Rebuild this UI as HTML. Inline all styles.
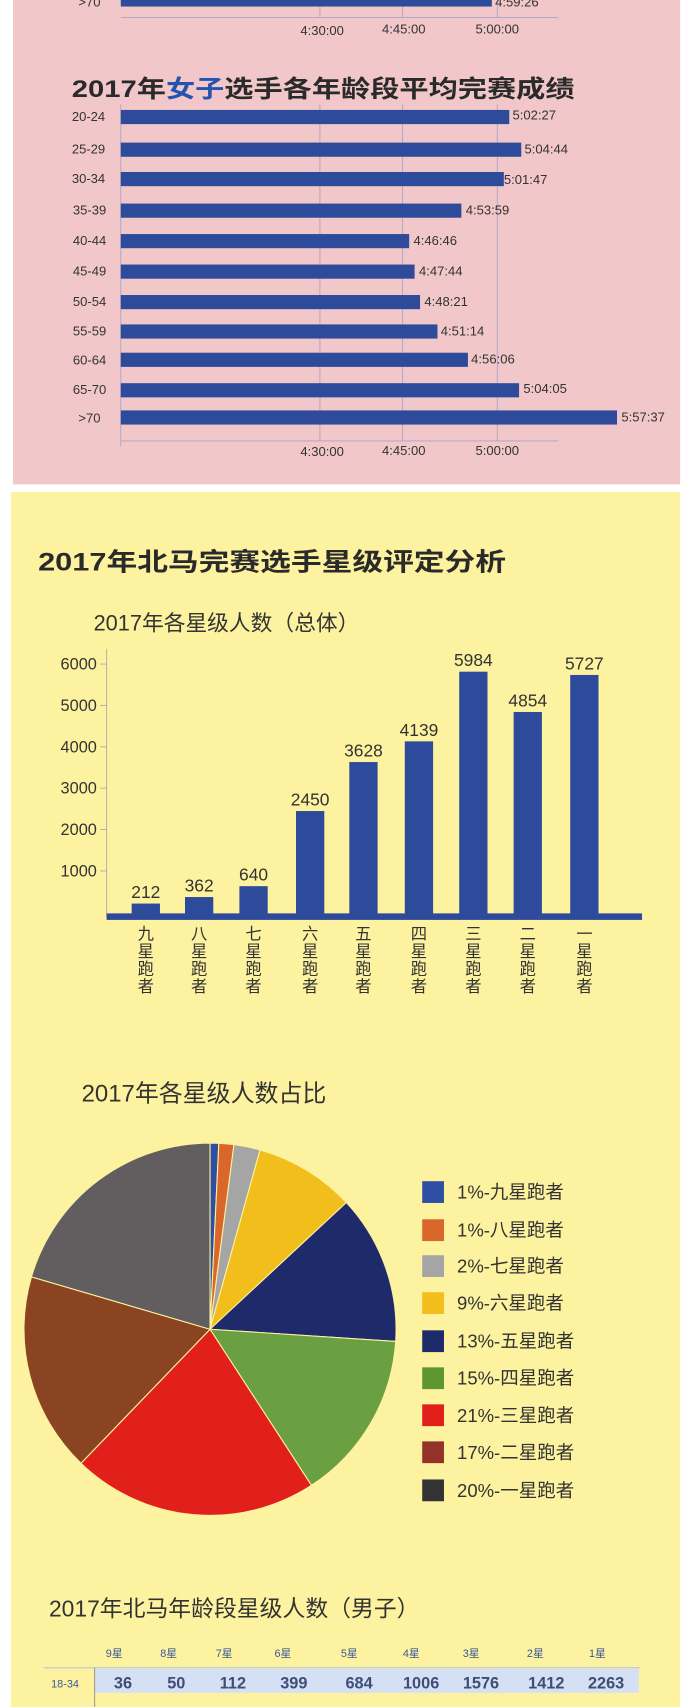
<!DOCTYPE html>
<html><head><meta charset="utf-8"><style>
html,body{margin:0;padding:0;background:#fff;width:691px;height:1707px;overflow:hidden}
svg{display:block}
text{font-family:"Liberation Sans","Noto Sans CJK SC",sans-serif}
</style></head><body>
<svg width="691" height="1707" viewBox="0 0 635 1568" preserveAspectRatio="none" xmlns="http://www.w3.org/2000/svg">
<rect x="0" y="0" width="635" height="1568" fill="#fff"/>
<rect x="12" y="0" width="613" height="445" fill="#f1c7c9"/>
<rect x="10" y="452" width="615" height="1116" fill="#fdf29f"/>
<!-- top partial chart -->
<g stroke="#a9a3c4" stroke-width="0.8">
<line x1="294" y1="0" x2="294" y2="16"/><line x1="370" y1="0" x2="370" y2="16"/><line x1="457" y1="0" x2="457" y2="16"/>
<line x1="111" y1="16" x2="513" y2="16"/>
</g>
<rect x="111" y="0" width="341" height="6" fill="#2e4a9a"/>
<text x="72" y="6" font-size="12" fill="#333">&gt;70</text>
<text x="455" y="6" font-size="12" fill="#333">4:59:26</text>
<g font-size="12" fill="#333"><text x="276" y="32">4:30:00</text><text x="351" y="31">4:45:00</text><text x="437" y="31">5:00:00</text></g>
<!-- women chart -->
<text x="66" y="89" font-size="22" font-weight="bold" fill="#2a2a2a" textLength="462" lengthAdjust="spacingAndGlyphs">2017年<tspan fill="#2553b0">女子</tspan>选手各年龄段平均完赛成绩</text>
<g stroke="#a9a3c4" stroke-width="0.8">
<line x1="294" y1="96" x2="294" y2="405"/><line x1="370" y1="96" x2="370" y2="405"/><line x1="457" y1="96" x2="457" y2="405"/>
<line x1="111" y1="96" x2="111" y2="410"/>
<line x1="111" y1="405" x2="513" y2="405"/>
</g>
<g fill="#2e4a9a">
<rect x="111" y="101" width="357" height="13"/>
<rect x="111" y="131" width="368" height="13"/>
<rect x="111" y="158" width="352" height="13"/>
<rect x="111" y="187" width="313" height="13"/>
<rect x="111" y="215" width="265" height="13"/>
<rect x="111" y="243" width="270" height="13"/>
<rect x="111" y="271" width="275" height="13"/>
<rect x="111" y="298" width="291" height="13"/>
<rect x="111" y="324" width="319" height="13"/>
<rect x="111" y="352" width="366" height="13"/>
<rect x="111" y="377" width="456" height="13"/>
</g>
<g font-size="12" fill="#333">
<text x="66" y="111">20-24</text><text x="471" y="110">5:02:27</text>
<text x="66" y="141">25-29</text><text x="482" y="141">5:04:44</text>
<text x="66" y="168">30-34</text><text x="463" y="169">5:01:47</text>
<text x="67" y="197">35-39</text><text x="428" y="197">4:53:59</text>
<text x="67" y="225">40-44</text><text x="380" y="225">4:46:46</text>
<text x="67" y="253">45-49</text><text x="385" y="253">4:47:44</text>
<text x="67" y="281">50-54</text><text x="390" y="281">4:48:21</text>
<text x="67" y="308">55-59</text><text x="405" y="308">4:51:14</text>
<text x="67" y="335">60-64</text><text x="433" y="334">4:56:06</text>
<text x="67" y="362">65-70</text><text x="481" y="361">5:04:05</text>
<text x="72" y="388">&gt;70</text><text x="571" y="387">5:57:37</text>
<text x="276" y="419">4:30:00</text><text x="351" y="418">4:45:00</text><text x="437" y="418">5:00:00</text>
</g>
<!-- yellow section -->
<text x="35" y="524" font-size="23" font-weight="bold" fill="#2a2a2a" textLength="430" lengthAdjust="spacingAndGlyphs">2017年北马完赛选手星级评定分析</text>
<text x="86" y="579" font-size="20" fill="#333">2017年各星级人数（总体）</text>
<line x1="98" y1="596" x2="98" y2="843" stroke="#aaa" stroke-width="0.8"/>
<g stroke="#aaa" stroke-width="0.8">
<line x1="92" y1="610" x2="98" y2="610"/><line x1="92" y1="648" x2="98" y2="648"/><line x1="92" y1="686" x2="98" y2="686"/>
<line x1="92" y1="724" x2="98" y2="724"/><line x1="92" y1="762" x2="98" y2="762"/><line x1="92" y1="800" x2="98" y2="800"/>
</g>
<g font-size="15" fill="#333" text-anchor="end">
<text x="89" y="615">6000</text><text x="89" y="653">5000</text><text x="89" y="691">4000</text>
<text x="89" y="729">3000</text><text x="89" y="767">2000</text><text x="89" y="805">1000</text>
</g>
<g fill="#2e4a9a">
<rect x="121" y="830" width="26" height="10"/>
<rect x="170" y="824" width="26" height="16"/>
<rect x="220" y="814" width="26" height="26"/>
<rect x="272" y="745" width="26" height="95"/>
<rect x="321" y="700" width="26" height="140"/>
<rect x="372" y="681" width="26" height="159"/>
<rect x="422" y="617" width="26" height="223"/>
<rect x="472" y="654" width="26" height="186"/>
<rect x="524" y="620" width="26" height="220"/>
<rect x="98" y="839" width="492" height="6"/>
</g>
<g font-size="16" fill="#333" text-anchor="middle">
<text x="134" y="825">212</text><text x="183" y="819">362</text><text x="233" y="809">640</text>
<text x="285" y="740">2450</text><text x="334" y="695">3628</text><text x="385" y="676">4139</text>
<text x="435" y="612">5984</text><text x="485" y="649">4854</text><text x="537" y="615">5727</text>
</g>
<g font-size="15" fill="#333" text-anchor="middle">
<text x="134" y="863">九</text><text x="134" y="879">星</text><text x="134" y="895">跑</text><text x="134" y="911">者</text>
<text x="183" y="863">八</text><text x="183" y="879">星</text><text x="183" y="895">跑</text><text x="183" y="911">者</text>
<text x="233" y="863">七</text><text x="233" y="879">星</text><text x="233" y="895">跑</text><text x="233" y="911">者</text>
<text x="285" y="863">六</text><text x="285" y="879">星</text><text x="285" y="895">跑</text><text x="285" y="911">者</text>
<text x="334" y="863">五</text><text x="334" y="879">星</text><text x="334" y="895">跑</text><text x="334" y="911">者</text>
<text x="385" y="863">四</text><text x="385" y="879">星</text><text x="385" y="895">跑</text><text x="385" y="911">者</text>
<text x="435" y="863">三</text><text x="435" y="879">星</text><text x="435" y="895">跑</text><text x="435" y="911">者</text>
<text x="485" y="863">二</text><text x="485" y="879">星</text><text x="485" y="895">跑</text><text x="485" y="911">者</text>
<text x="537" y="863">一</text><text x="537" y="879">星</text><text x="537" y="895">跑</text><text x="537" y="911">者</text>
</g>
<!-- pie -->
<text x="75" y="1012" font-size="22" fill="#333">2017年各星级人数占比</text>
<g stroke="#fdf29f" stroke-width="1">
<path d="M193 1221 L193 1050 A171 171 0 0 1 201.1 1050.2 Z" fill="#2e4fa3"/>
<path d="M193 1221 L201.1 1050.2 A171 171 0 0 1 215 1051.4 Z" fill="#d9662a"/>
<path d="M193 1221 L215 1051.4 A171 171 0 0 1 239 1056.3 Z" fill="#a5a5a5"/>
<path d="M193 1221 L239 1056.3 A171 171 0 0 1 318.3 1104.6 Z" fill="#f2be1c"/>
<path d="M193 1221 L318.3 1104.6 A171 171 0 0 1 363.6 1232.2 Z" fill="#1f2a6b"/>
<path d="M193 1221 L363.6 1232.2 A171 171 0 0 1 286.2 1364.4 Z" fill="#6aa042"/>
<path d="M193 1221 L286.2 1364.4 A171 171 0 0 1 74.4 1344.1 Z" fill="#e11f1b"/>
<path d="M193 1221 L74.4 1344.1 A171 171 0 0 1 28.9 1172.9 Z" fill="#8b4421"/>
<path d="M193 1221 L28.9 1172.9 A171 171 0 0 1 193 1050 Z" fill="#625e60"/>
</g>
<g>
<rect x="388" y="1085" width="20" height="20" fill="#2e4fa3"/>
<rect x="388" y="1120" width="20" height="20" fill="#d9662a"/>
<rect x="388" y="1153" width="20" height="20" fill="#a5a5a5"/>
<rect x="388" y="1187" width="20" height="20" fill="#f2be1c"/>
<rect x="388" y="1222" width="20" height="20" fill="#1f2a6b"/>
<rect x="388" y="1256" width="20" height="20" fill="#5e9632"/>
<rect x="388" y="1290" width="20" height="20" fill="#e11f1b"/>
<rect x="388" y="1324" width="20" height="20" fill="#94322a"/>
<rect x="388" y="1359" width="20" height="20" fill="#333"/>
</g>
<g font-size="17" fill="#333">
<text x="420" y="1101">1%-九星跑者</text>
<text x="420" y="1136">1%-八星跑者</text>
<text x="420" y="1169">2%-七星跑者</text>
<text x="420" y="1203">9%-六星跑者</text>
<text x="420" y="1238">13%-五星跑者</text>
<text x="420" y="1272">15%-四星跑者</text>
<text x="420" y="1306">21%-三星跑者</text>
<text x="420" y="1340">17%-二星跑者</text>
<text x="420" y="1375">20%-一星跑者</text>
</g>
<!-- table -->
<text x="45" y="1485" font-size="21" fill="#333">2017年北马年龄段星级人数（男子）</text>
<g font-size="10" fill="#3a5a9a" text-anchor="middle">
<text x="105" y="1522">9星</text><text x="155" y="1522">8星</text><text x="206" y="1522">7星</text>
<text x="260" y="1522">6星</text><text x="321" y="1522">5星</text><text x="378" y="1522">4星</text>
<text x="433" y="1522">3星</text><text x="492" y="1522">2星</text><text x="549" y="1522">1星</text>
</g>
<rect x="87" y="1533" width="500" height="22" fill="#d6e0f4"/>
<line x1="40" y1="1532" x2="588" y2="1532" stroke="#b8c4dc" stroke-width="1"/>
<line x1="87" y1="1532" x2="87" y2="1568" stroke="#888" stroke-width="0.8"/>
<text x="47" y="1550" font-size="10" fill="#3a5a9a">18-34</text>
<g font-size="15" font-weight="bold" fill="#3d4f77" text-anchor="middle">
<text x="113" y="1551">36</text><text x="162" y="1551">50</text><text x="214" y="1551">112</text>
<text x="270" y="1551">399</text><text x="330" y="1551">684</text><text x="387" y="1551">1006</text>
<text x="442" y="1551">1576</text><text x="502" y="1551">1412</text><text x="557" y="1551">2263</text>
</g>
</svg>
</body></html>
